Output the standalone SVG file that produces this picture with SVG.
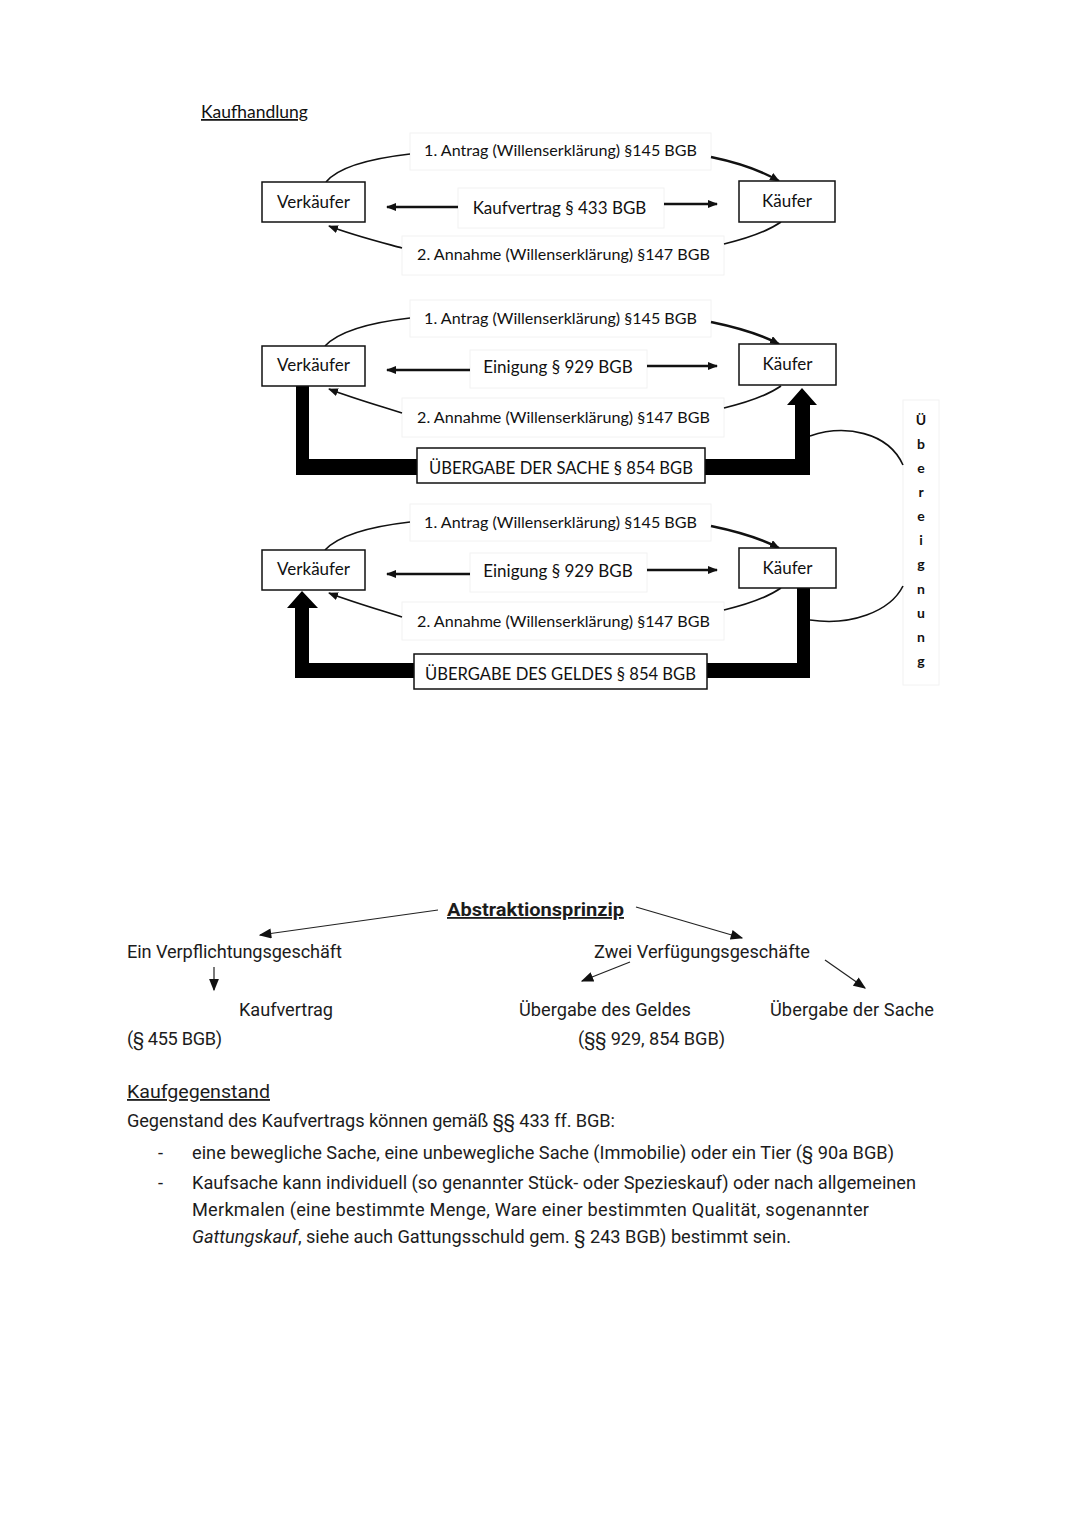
<svg xmlns="http://www.w3.org/2000/svg" width="1080" height="1526" viewBox="0 0 1080 1526">
<defs>
<style>
.d{font-family:Lato,"Open Sans","Liberation Sans",sans-serif;fill:#111}
.n{font-size:17px}
.s{font-size:16.1px}
.box{fill:#fff;stroke:#111;stroke-width:1.5}
.lbl{fill:#fff;stroke:#f2f2f2;stroke-width:1}
.ln{fill:none;stroke:#111;stroke-width:1.6}
.lt{fill:none;stroke:#111;stroke-width:2.4}
.r{font-family:Roboto,"Liberation Sans",sans-serif;fill:#1c1c1c;font-size:18.2px}
.ra{fill:none;stroke:#222;stroke-width:1.2}
.v{font-family:Lato,"Open Sans","Liberation Sans",sans-serif;font-weight:bold;font-size:14px;fill:#111;text-anchor:middle}
</style>
<marker id="ah" viewBox="0 0 10 8" refX="9" refY="4" markerWidth="10" markerHeight="8" markerUnits="userSpaceOnUse" orient="auto">
<path d="M0,0 L10,4 L0,8 z" fill="#111"/>
</marker>
<marker id="ra" viewBox="0 0 10 8" refX="9" refY="4" markerWidth="13" markerHeight="10" markerUnits="userSpaceOnUse" orient="auto">
<path d="M0,0 L10,4 L0,8 z" fill="#111"/>
</marker>
</defs>
<rect width="1080" height="1526" fill="#fff"/>

<text id="title" class="d" x="201" y="118" font-size="17.5" text-decoration="underline">Kaufhandlung</text>

<g id="labelboxes">
<rect class="lbl" x="410" y="133" width="301" height="37"/>
<rect class="lbl" x="458" y="188" width="206" height="40"/>
<rect class="lbl" x="402" y="236" width="322" height="39"/>
<rect class="lbl" x="410" y="300" width="301" height="37"/>
<rect class="lbl" x="470" y="350" width="177" height="38"/>
<rect class="lbl" x="402" y="398" width="322" height="39"/>
<rect class="lbl" x="410" y="504" width="301" height="37"/>
<rect class="lbl" x="470" y="553" width="177" height="39"/>
<rect class="lbl" x="402" y="602" width="322" height="38"/>
<rect class="lbl" x="903" y="400" width="36" height="285"/>
</g>

<g id="connectors">
<path class="ln" d="M326,182 C340,165 375,158 410,154"/>
<path class="lt" d="M711,157 C740,163 760,170 779,181" marker-end="url(#ah)"/>
<path class="ln" d="M781,222 C765,233 745,239 724,244"/>
<path class="ln" d="M402,248 C380,242 352,235 329,226" marker-end="url(#ah)"/>
<path class="lt" d="M458,207 L387,207" marker-end="url(#ah)"/>
<path class="lt" d="M664,204 L717,204" marker-end="url(#ah)"/>
<path class="ln" d="M325,346 C340,330 375,322 410,318"/>
<path class="lt" d="M711,322 C740,328 760,334 779,344" marker-end="url(#ah)"/>
<path class="ln" d="M781,386 C765,397 745,403 724,408"/>
<path class="ln" d="M402,413 C380,406 352,398 329,389" marker-end="url(#ah)"/>
<path class="lt" d="M470,370 L387,370" marker-end="url(#ah)"/>
<path class="lt" d="M647,366 L717,366" marker-end="url(#ah)"/>
<polygon fill="#000" points="296,386 309,386 309,459 795,459 795,405 787,405 802,388 817,405 810,405 810,475 296,475"/>
<path class="ln" d="M325,550 C340,534 375,526 410,522"/>
<path class="lt" d="M711,526 C740,532 760,538 779,548" marker-end="url(#ah)"/>
<path class="ln" d="M781,588 C765,599 745,605 724,610"/>
<path class="ln" d="M402,617 C380,610 352,602 329,593" marker-end="url(#ah)"/>
<path class="lt" d="M470,574 L387,574" marker-end="url(#ah)"/>
<path class="lt" d="M647,570 L717,570" marker-end="url(#ah)"/>
<polygon fill="#000" points="810,588 810,678 295,678 295,608 287,608 302,591 318,608 309,608 309,663 797,663 797,588"/>
<path class="ln" d="M810,436 C845,424 888,432 903,465"/>
<path class="ln" d="M810,620 C850,626 890,612 903,586"/>
<path class="ra" d="M438,910 L260,935" marker-end="url(#ra)"/>
<path class="ra" d="M636,907 L742,938" marker-end="url(#ra)"/>
<path class="ra" d="M214,967 L214,990" marker-end="url(#ra)"/>
<path class="ra" d="M630,962 L582,981" marker-end="url(#ra)"/>
<path class="ra" d="M825,960 L865,988" marker-end="url(#ra)"/>
</g>

<g id="verkaeufer1"><rect class="box" x="262" y="182" width="103" height="40"/><text class="d n" x="313.5" y="208" text-anchor="middle">Verkäufer</text></g>
<g id="kaeufer1"><rect class="box" x="739" y="181" width="96" height="41"/><text class="d n" x="787" y="207" text-anchor="middle">Käufer</text></g>
<g id="antrag1"><text class="d s" x="560.5" y="155.5" text-anchor="middle">1. Antrag (Willenserklärung) §145 BGB</text></g>
<g id="kaufvertrag1"><text class="d n" x="559.5" y="214" text-anchor="middle">Kaufvertrag § 433 BGB</text></g>
<g id="annahme1"><text class="d s" x="563.5" y="259.5" text-anchor="middle">2. Annahme (Willenserklärung) §147 BGB</text></g>

<g id="verkaeufer2"><rect class="box" x="262" y="346" width="103" height="40"/><text class="d n" x="313.5" y="371" text-anchor="middle">Verkäufer</text></g>
<g id="kaeufer2"><rect class="box" x="739" y="344" width="97" height="41"/><text class="d n" x="787.5" y="370" text-anchor="middle">Käufer</text></g>
<g id="antrag2"><text class="d s" x="560.5" y="323.5" text-anchor="middle">1. Antrag (Willenserklärung) §145 BGB</text></g>
<g id="einigung2"><text class="d n" x="558" y="373" text-anchor="middle">Einigung § 929 BGB</text></g>
<g id="annahme2"><text class="d s" x="563.5" y="422.5" text-anchor="middle">2. Annahme (Willenserklärung) §147 BGB</text></g>
<g id="uebergabe-sache"><rect class="box" x="417" y="448" width="288" height="35"/><text class="d" font-size="16.6" x="561" y="474" text-anchor="middle">ÜBERGABE DER SACHE § 854 BGB</text></g>

<g id="verkaeufer3"><rect class="box" x="262" y="550" width="103" height="40"/><text class="d n" x="313.5" y="575" text-anchor="middle">Verkäufer</text></g>
<g id="kaeufer3"><rect class="box" x="739" y="548" width="97" height="40"/><text class="d n" x="787.5" y="574" text-anchor="middle">Käufer</text></g>
<g id="antrag3"><text class="d s" x="560.5" y="527.5" text-anchor="middle">1. Antrag (Willenserklärung) §145 BGB</text></g>
<g id="einigung3"><text class="d n" x="558" y="577" text-anchor="middle">Einigung § 929 BGB</text></g>
<g id="annahme3"><text class="d s" x="563.5" y="626.5" text-anchor="middle">2. Annahme (Willenserklärung) §147 BGB</text></g>
<g id="uebergabe-geld"><rect class="box" x="414" y="654" width="293" height="35"/><text class="d" font-size="16.6" x="560.5" y="680" text-anchor="middle">ÜBERGABE DES GELDES § 854 BGB</text></g>

<g id="uebereignung">
<text class="v" x="921" y="425">Ü</text>
<text class="v" x="921" y="449">b</text>
<text class="v" x="921" y="473">e</text>
<text class="v" x="921" y="497">r</text>
<text class="v" x="921" y="521">e</text>
<text class="v" x="921" y="545">i</text>
<text class="v" x="921" y="569">g</text>
<text class="v" x="921" y="594">n</text>
<text class="v" x="921" y="618">u</text>
<text class="v" x="921" y="642">n</text>
<text class="v" x="921" y="666">g</text>
</g>

<g id="abstraktion"><text class="r" x="447" y="916" font-weight="bold" font-size="20.5" text-decoration="underline" textLength="177" lengthAdjust="spacingAndGlyphs">Abstraktionsprinzip</text></g>
<g id="verpflichtung"><text class="r" x="127" y="958" textLength="215">Ein Verpflichtungsgeschäft</text></g>
<g id="kaufvertrag"><text class="r" x="239" y="1016" textLength="94">Kaufvertrag</text></g>
<g id="p455"><text class="r" x="127" y="1045" textLength="95">(§ 455 BGB)</text></g>
<g id="verfuegung"><text class="r" x="594" y="958" textLength="216">Zwei Verfügungsgeschäfte</text></g>
<g id="geld"><text class="r" x="519" y="1016" textLength="172">Übergabe des Geldes</text></g>
<g id="p929"><text class="r" x="578" y="1045" textLength="147">(§§ 929, 854 BGB)</text></g>
<g id="sache"><text class="r" x="770" y="1016" textLength="164">Übergabe der Sache</text></g>

<g id="kaufgegenstand">
<text class="r" x="127" y="1098" font-size="20.5" text-decoration="underline" textLength="143" lengthAdjust="spacingAndGlyphs">Kaufgegenstand</text>
<text class="r" x="127" y="1127" textLength="488">Gegenstand des Kaufvertrags können gemäß §§ 433 ff. BGB:</text>
<text class="r" x="158" y="1159">-</text>
<text class="r" x="192" y="1159" textLength="702">eine bewegliche Sache, eine unbewegliche Sache (Immobilie) oder ein Tier (§ 90a BGB)</text>
<text class="r" x="158" y="1189">-</text>
<text class="r" x="192" y="1189" textLength="724">Kaufsache kann individuell (so genannter Stück- oder Spezieskauf) oder nach allgemeinen</text>
<text class="r" x="192" y="1216" textLength="677">Merkmalen (eine bestimmte Menge, Ware einer bestimmten Qualität, sogenannter</text>
<text class="r" x="192" y="1243" textLength="599"><tspan font-style="italic">Gattungskauf</tspan>, siehe auch Gattungsschuld gem. § 243 BGB) bestimmt sein.</text>
</g>
</svg>
